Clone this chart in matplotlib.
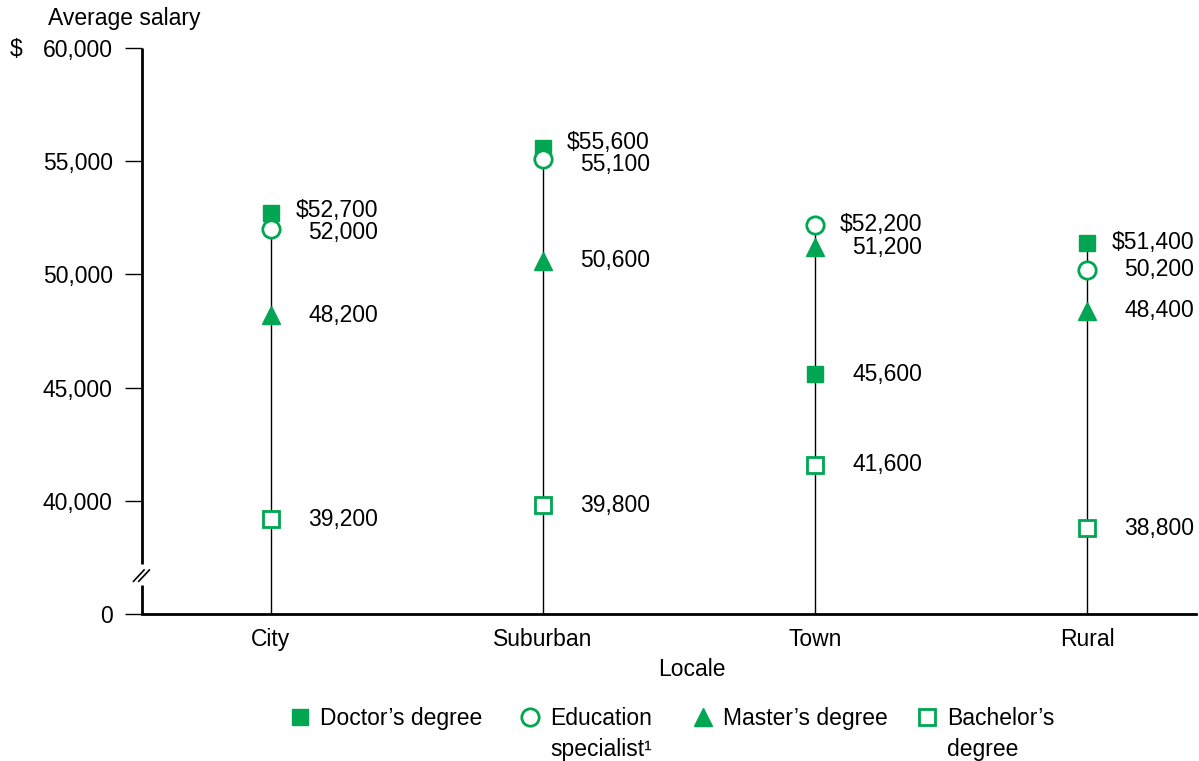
import matplotlib.pyplot as plt
from matplotlib.lines import Line2D

plt.rcParams['font.family'] = ['Liberation Sans', 'DejaVu Sans']

locales = ['City', 'Suburban', 'Town', 'Rural']
doctor = [52700, 55600, 45600, 51400]
edu_spec = [52000, 55100, 52200, 50200]
master = [48200, 50600, 51200, 48400]
bachelor = [39200, 39800, 41600, 38800]

yticks = [35000, 40000, 45000, 50000, 55000, 60000]
ytick_labels = ['0', '40,000', '45,000', '50,000', '55,000', '60,000']

green = '#00A651'
fs = 16.5

fig = plt.figure(figsize=(11.99, 7.61), dpi=100)
ax = fig.add_axes([0.1184, 0.193, 0.879, 0.744])

x = list(range(len(locales)))
series = [doctor, edu_spec, master, bachelor]

# stems from the bottom up to the highest marker
for i in x:
    top = max(s[i] for s in series)
    ax.plot([i, i], [35000, top], color='black', lw=1, zorder=1)

ax.plot(x, doctor, 's', color=green, ms=11.5, zorder=3, ls='none')
ax.plot(x, edu_spec, 'o', mfc='white', mec=green, mew=2, ms=12.5, zorder=4, ls='none')
ax.plot(x, master, '^', color=green, ms=13, zorder=3, ls='none')
ax.plot(x, bachelor, 's', mfc='white', mec=green, mew=2, ms=12, zorder=3, ls='none')

# value labels, right aligned beside each stem; the top one gets a "$"
px_per_unit = 566 / 25000
for i in x:
    vals = [s[i] for s in series]
    order = sorted(range(4), key=lambda k: -vals[k])
    gap_px = (vals[order[0]] - vals[order[1]]) * px_per_unit
    extra = max(0, 22 - gap_px) * 0.72  # in points
    for rank, k in enumerate(order):
        v = vals[k]
        txt = f'${v:,}' if rank == 0 else f'{v:,}'
        dy = 0
        if rank == 0:
            dy = extra * 0.45
        if rank == 1:
            dy = -extra * 0.55
        ax.annotate(txt, (i, v), xytext=(77, dy), textcoords='offset points',
                    ha='right', va='center', fontsize=fs, zorder=5)

ax.set_xlim(-0.474, 3.40)
ax.set_ylim(35000, 60000)
ax.set_xticks(x)
ax.set_xticklabels(locales, fontsize=fs)
ax.set_yticks(yticks)
ax.set_yticklabels(ytick_labels, fontsize=fs)
ax.tick_params(axis='y', length=12, width=1, pad=9)
ax.tick_params(axis='x', length=0, pad=10)

for side in ['top', 'right']:
    ax.spines[side].set_visible(False)
ax.spines['left'].set_visible(False)
ax.spines['bottom'].set_linewidth(2)

# left spine drawn in two parts with a break
ax.plot([0, 0], [35000, 36300], transform=ax.get_yaxis_transform(),
        color='black', lw=2, clip_on=False, solid_capstyle='butt')
ax.plot([0, 0], [37200, 60000], transform=ax.get_yaxis_transform(),
        color='black', lw=2, clip_on=False, solid_capstyle='butt')
for off in [-0.004, 0.001]:
    ax.plot([off - 0.004, off + 0.006], [36450, 36950], transform=ax.get_yaxis_transform(),
            color='black', lw=1.2, clip_on=False)

fig.text(48 / 1199, 1 - 18 / 761, 'Average salary', fontsize=fs, va='center', ha='left')
fig.text(10 / 1199, 1 - 49 / 761, '$', fontsize=fs, va='center', ha='left')
fig.text(692 / 1199, 1 - 669 / 761, 'Locale', fontsize=fs, va='center', ha='center')

# legend
leg_y = 1 - 717 / 761
entries = [
    (300, 's', dict(color=green, ms=11.5), 'Doctor’s degree'),
    (530, 'o', dict(mfc='white', mec=green, mew=2, ms=12.5), 'Education\nspecialist¹'),
    (703, '^', dict(color=green, ms=13), 'Master’s degree'),
    (927, 's', dict(mfc='white', mec=green, mew=2, ms=12), 'Bachelor’s\ndegree'),
]
for px, mk, kw, label in entries:
    fig.add_artist(Line2D([px / 1199], [leg_y], marker=mk, ls='none',
                          transform=fig.transFigure, **kw))
    fig.text((px + 20) / 1199, leg_y + 0.0125, label, fontsize=fs, va='top', ha='left',
             linespacing=1.4)

fig.savefig('out.png', dpi=100)
